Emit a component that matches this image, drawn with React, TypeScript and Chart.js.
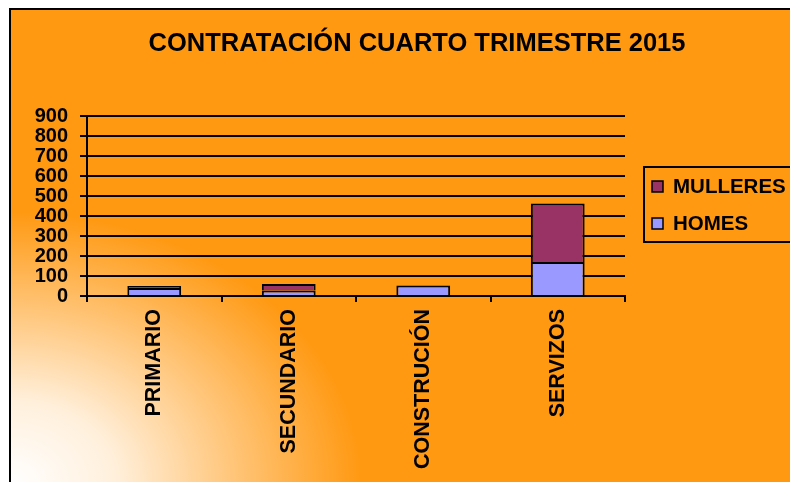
import React, { useEffect, useRef } from "react";
import { Chart, registerables } from "chart.js";

Chart.register(...registerables);

const categories = ["PRIMARIO", "SECUNDARIO", "CONSTRUCIÓN", "SERVIZOS"];
const homes = [40, 28, 52, 170];
const mulleres = [10, 32, 0, 292];
const seriesLabels = ["HOMES", "MULLERES"];
const seriesColors = ["#9999FF", "#993366"];
const yMin = 0;
const yMax = 900;
const yStep = 100;
const titleText = "CONTRATACIÓN CUARTO TRIMESTRE 2015";

const ORANGE = "#FF9912";
const FONT = "'Liberation Sans', Arial, sans-serif";

const bgPlugin = {
  id: "bgPlugin",
  beforeDraw(chart: any) {
    const { ctx, width, height } = chart;
    ctx.save();
    ctx.fillStyle = "#ffffff";
    ctx.fillRect(0, 0, width, height);
    ctx.fillStyle = ORANGE;
    ctx.fillRect(9, 8, width - 9, height - 8);
    // white glow in the bottom-left corner
    ctx.save();
    ctx.beginPath();
    ctx.rect(9, 8, width - 9, height - 8);
    ctx.clip();
    ctx.translate(10, height);
    ctx.scale(1.3, 1);
    const g = ctx.createRadialGradient(0, 0, 0, 0, 0, 270);
    g.addColorStop(0, "rgba(255,255,255,1)");
    g.addColorStop(0.3, "rgba(255,255,255,0.85)");
    g.addColorStop(0.65, "rgba(255,255,255,0.42)");
    g.addColorStop(1, "rgba(255,255,255,0)");
    ctx.fillStyle = g;
    ctx.fillRect(0, -300, 400, 300);
    ctx.restore();
    // border
    ctx.strokeStyle = "#000";
    ctx.lineWidth = 2;
    ctx.beginPath();
    ctx.moveTo(10, height + 2);
    ctx.lineTo(10, 9);
    ctx.lineTo(width + 2, 9);
    ctx.stroke();
    ctx.restore();
  },
  afterDraw(chart: any) {
    const { ctx } = chart;
    ctx.save();
    // title
    ctx.fillStyle = "#000";
    ctx.font = `bold 25.5px ${FONT}`;
    ctx.textAlign = "center";
    ctx.textBaseline = "middle";
    ctx.fillText(titleText, 417, 44);
    // legend
    ctx.strokeStyle = "#000";
    ctx.lineWidth = 2;
    ctx.strokeRect(644, 167, 160, 75);
    const ds = chart.data.datasets;
    const order = [1, 0];
    order.forEach((di: number, i: number) => {
      const y = 181 + i * 37;
      ctx.fillStyle = ds[di].backgroundColor;
      ctx.fillRect(652, y, 11, 11);
      ctx.lineWidth = 1.5;
      ctx.strokeRect(652, y, 11, 11);
      ctx.fillStyle = "#000";
      ctx.font = `bold 20.5px ${FONT}`;
      ctx.textAlign = "left";
      ctx.textBaseline = "middle";
      ctx.fillText(ds[di].label, 673, y + 6);
    });
    ctx.restore();
  },
};

export default function App() {
  const ref = useRef<HTMLCanvasElement>(null);
  useEffect(() => {
    const chart = new Chart(ref.current!, {
      type: "bar",
      data: {
        labels: categories,
        datasets: [
          {
            label: seriesLabels[0],
            data: homes,
            backgroundColor: seriesColors[0],
            borderColor: "#000",
            borderWidth: 2,
            barPercentage: 0.4,
            categoryPercentage: 1,
          },
          {
            label: seriesLabels[1],
            data: mulleres,
            backgroundColor: seriesColors[1],
            borderColor: "#000",
            borderWidth: 2,
            barPercentage: 0.4,
            categoryPercentage: 1,
          },
        ],
      },
      options: {
        animation: false,
        responsive: false,
        layout: { padding: { left: 0, top: 116, right: 165, bottom: 0 } },
        plugins: {
          legend: { display: false },
          title: { display: false },
          tooltip: { enabled: false },
        },
        scales: {
          x: {
            stacked: true,
            afterFit: (s: any) => {
              s.height = 186;
            },
            grid: {
              offset: true,
              drawOnChartArea: false,
              color: "#000",
              lineWidth: 2,
              tickLength: 6,
            },
            border: { display: true, color: "#000", width: 2 },
            ticks: {
              color: "#000",
              font: { family: FONT, weight: "bold", size: 21.5 },
              maxRotation: 90,
              minRotation: 90,
              autoSkip: false,
              padding: 7,
            },
          },
          y: {
            stacked: true,
            min: yMin,
            max: yMax,
            afterFit: (s: any) => {
              s.width = 87;
            },
            grid: { color: "#000", lineWidth: 2, tickLength: 7 },
            border: { display: true, color: "#000", width: 2 },
            ticks: {
              stepSize: yStep,
              autoSkip: false,
              color: "#000",
              font: { family: FONT, weight: "bold", size: 20 },
              padding: 12,
            },
          },
        },
      },
      plugins: [bgPlugin],
    });
    return () => chart.destroy();
  }, []);
  return (
    <div style={{ position: "fixed", left: 0, top: 0, width: 790, height: 482 }}>
      <canvas ref={ref} width={790} height={482} style={{ display: "block" }} />
    </div>
  );
}
